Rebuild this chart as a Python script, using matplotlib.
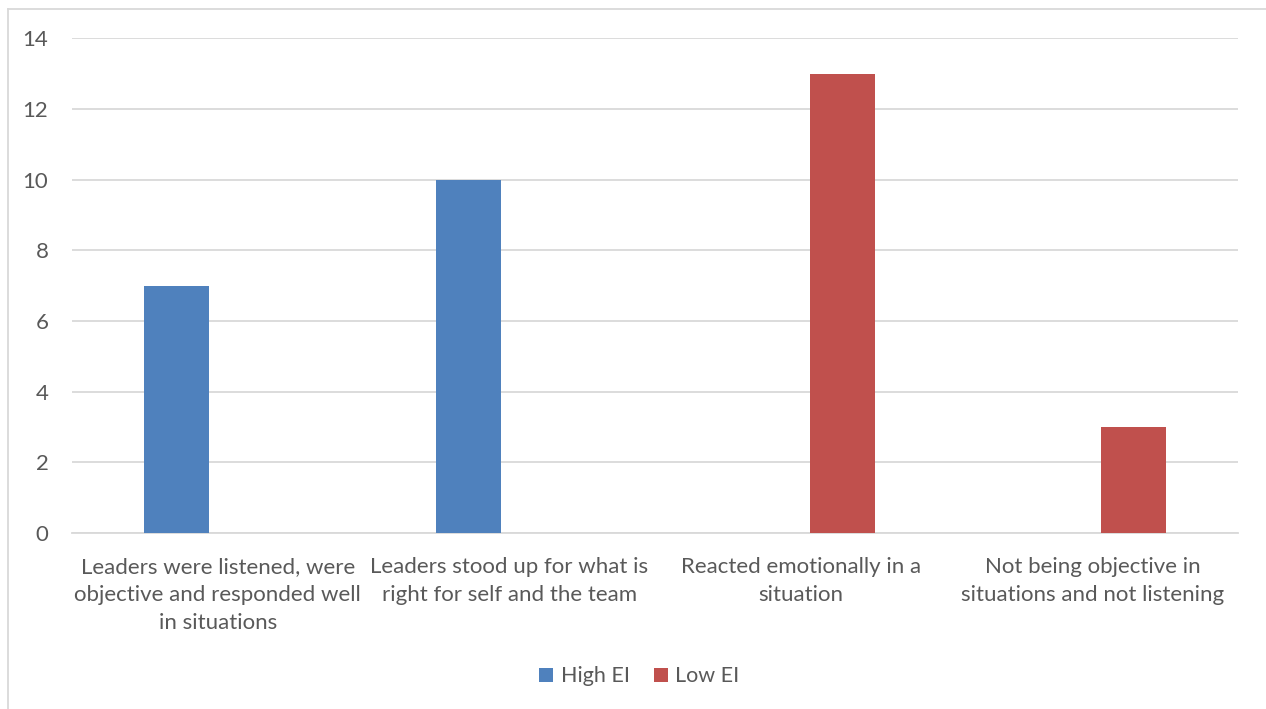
import numpy as np
import matplotlib.pyplot as plt
from matplotlib.lines import Line2D

categories = [
    "Leaders were listened, were\nobjective and responded well\nin situations",
    "Leaders stood up for what is\nright for self and the team",
    "Reacted emotionally in a\nsituation",
    "Not being objective in\nsituations and not listening",
]
high_ei = [7, 10, 0, 0]
low_ei = [0, 0, 13, 3]
series_names = ["High EI", "Low EI"]
y_ticks = [0, 2, 4, 6, 8, 10, 12, 14]

plt.rcParams['font.family'] = ['Lato', 'DejaVu Sans']
text_color = '#595959'
grid_color = '#d9d9d9'
fs = 16

fig = plt.figure(figsize=(12.66, 7.09), dpi=100)
ax = fig.add_axes([0.0569, 0.2482, 0.9211, 0.6978])

x = np.arange(len(categories))
width = 0.223
offset = 0.1415
ax.bar(x - offset, high_ei, width, color='#4f81bd', label=series_names[0], zorder=3)
ax.bar(x + offset, low_ei, width, color='#c0504d', label=series_names[1], zorder=3)

ax.set_xlim(-0.5, len(categories) - 0.5)
ax.set_ylim(0, 14)
ax.set_yticks(y_ticks)
ax.set_xticks(x)
ax.set_xticklabels(categories, fontsize=fs, color=text_color, linespacing=1.5)
ax.tick_params(axis='y', labelsize=fs, labelcolor=text_color, length=0, pad=17)
ax.tick_params(axis='x', length=0, pad=17)
ax.yaxis.grid(True, color=grid_color, linewidth=1.3, zorder=0)
for s in ['top', 'right', 'left']:
    ax.spines[s].set_visible(False)
ax.spines['bottom'].set_color(grid_color)
ax.spines['bottom'].set_linewidth(1.3)

leg = fig.legend(loc='center', bbox_to_anchor=(0.505, 0.046), ncol=2, frameon=False,
                 fontsize=15.5, handlelength=0.65, handleheight=0.65,
                 handletextpad=0.35, columnspacing=1.1)
for t in leg.get_texts():
    t.set_color(text_color)

# chart frame (cropped on right and bottom)
top_y = 1 - 9 / 709
left_x = 8 / 1266
fig.add_artist(Line2D([left_x, 1.0], [top_y, top_y], transform=fig.transFigure,
                      color=grid_color, linewidth=1.3))
fig.add_artist(Line2D([left_x, left_x], [0.0, top_y], transform=fig.transFigure,
                      color=grid_color, linewidth=1.3))

fig.savefig('out.png', dpi=100)
